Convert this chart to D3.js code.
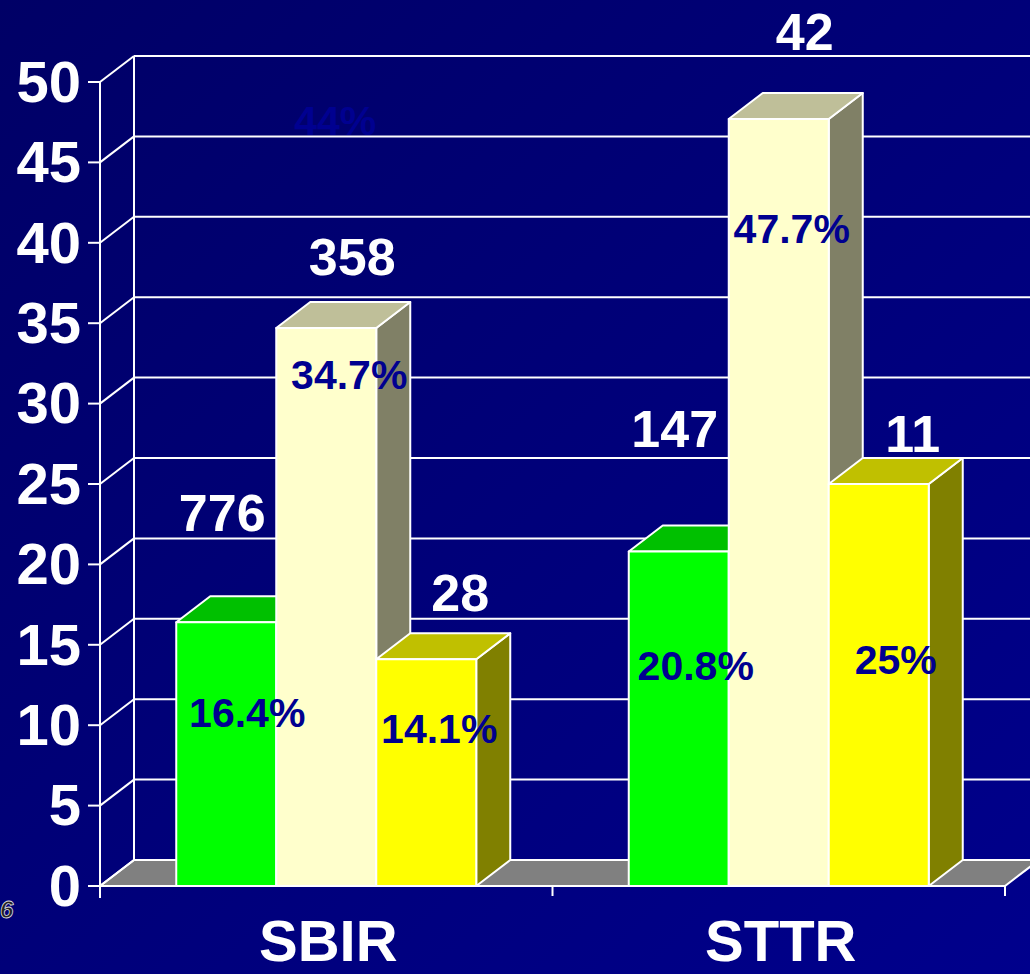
<!DOCTYPE html>
<html>
<head>
<meta charset="utf-8">
<script src="https://cdn.jsdelivr.net/npm/d3@7"></script>
<style>
  body { margin: 0; background: #000070; }
  svg { display: block; }
  text { font-family: "Liberation Sans", Arial, sans-serif; font-weight: bold; }
</style>
</head>
<body>
<div id="chart"></div>
<script>
// data
const programs = ["SBIR", "STTR"];
const series = ["green", "cream", "yellow"];
const pctValues = [[16.4, 34.7, 14.1], [20.8, 47.7, 25]];
const counts = [[776, 358, 28], [147, 42, 11]];
const pctLabels = [["16.4%", "34.7%", "14.1%"], ["20.8%", "47.7%", "25%"]];
const yTicks = [0, 5, 10, 15, 20, 25, 30, 35, 40, 45, 50];
// where the hand-placed labels sit (chart units)
const countLabelAt = [[22.1, 38.0, 17.1], [27.3, 52.0, 27.0]];
const pctLabelAt = [[9.9, 30.9, 8.9], [12.8, 40.0, 13.2]];
const strayLabel = "44%", strayLabelAt = 46.7;

const W = 1030, H = 974;
const depthX = 34, depthY = -26;
const colors = {
  green:  { front: "#00ff00", top: "#00c000", side: "#008000" },
  cream:  { front: "#ffffcc", top: "#bfbf99", side: "#808066" },
  yellow: { front: "#ffff00", top: "#c0c000", side: "#808000" }
};
const countShift = [-21, 9, 17];
const pctShift = [[4, 6, -4], [0, -4, 0]];

const svg = d3.select("#chart").append("svg").attr("width", W).attr("height", H);

const grad = svg.append("defs").append("linearGradient").attr("id", "bg")
  .attr("x1", "0").attr("y1", "0").attr("x2", "1").attr("y2", "1");
grad.append("stop").attr("offset", "0").attr("stop-color", "#000066");
grad.append("stop").attr("offset", "1").attr("stop-color", "#00008c");
svg.append("rect").attr("width", W).attr("height", H).attr("fill", "url(#bg)");

const x = d3.scaleBand().domain(programs).range([100, 1005]);
const y = d3.scaleLinear().domain([0, 50]).range([886, 82]);
const groupW = 300;
const inner = d3.scaleBand().domain(series)
  .range([(x.bandwidth() - groupW) / 2, (x.bandwidth() + groupW) / 2]);

const x0 = x.range()[0], x1 = x.range()[1];
const line = (a, b, c, d) => svg.append("line")
  .attr("x1", a).attr("y1", b).attr("x2", c).attr("y2", d)
  .attr("stroke", "white").attr("stroke-width", 2);

// floor
svg.append("path")
  .attr("d", `M${x0},${y(0)}L${x1},${y(0)}L${x1 + depthX},${y(0) + depthY}L${x0 + depthX},${y(0) + depthY}Z`)
  .attr("fill", "#808080").attr("stroke", "white").attr("stroke-width", 2);

// back wall gridlines + left wall
yTicks.forEach(t => {
  if (t > 0) line(x0 + depthX, y(t) + depthY, x1 + depthX, y(t) + depthY);
  line(x0, y(t), x0 + depthX, y(t) + depthY);
});
line(x0 + depthX, y(50) + depthY, x0 + depthX, y(0) + depthY);

// stray label behind the bars
svg.append("text")
  .attr("x", x("SBIR") + inner("cream") + inner.bandwidth() / 2 + depthX / 2 - 8)
  .attr("y", y(strayLabelAt))
  .attr("text-anchor", "middle").attr("font-size", 41).attr("fill", "#000090")
  .text(strayLabel);

// bars
programs.forEach((p, pi) => {
  series.forEach((s, si) => {
    const v = pctValues[pi][si];
    const bx = x(p) + inner(s), bw = inner.bandwidth();
    const top = y(v), base = y(0);
    const g = svg.append("g").attr("stroke", "white").attr("stroke-width", 2).attr("stroke-linejoin", "round");
    g.append("path")
      .attr("d", `M${bx + bw},${base}L${bx + bw + depthX},${base + depthY}L${bx + bw + depthX},${top + depthY}L${bx + bw},${top}Z`)
      .attr("fill", colors[s].side);
    g.append("path")
      .attr("d", `M${bx},${top}L${bx + depthX},${top + depthY}L${bx + bw + depthX},${top + depthY}L${bx + bw},${top}Z`)
      .attr("fill", colors[s].top);
    g.append("rect").attr("x", bx).attr("y", top).attr("width", bw).attr("height", base - top)
      .attr("fill", colors[s].front);
  });
});

// axes in front
line(x0, y(50), x0, y(0) + 12);
line(x0, y(0), x1, y(0));
yTicks.forEach(t => line(x0 - 12, y(t), x0, y(t)));
[x0, x0 + x.bandwidth(), x1].forEach(v => line(v, y(0), v, y(0) + 10));

svg.selectAll("text.ytick").data(yTicks).enter().append("text")
  .attr("class", "ytick")
  .attr("x", 81).attr("y", d => y(d)).attr("dy", "0.34em")
  .attr("text-anchor", "end").attr("font-size", 58).attr("fill", "white")
  .text(d => d);

svg.selectAll("text.cat").data(programs).enter().append("text")
  .attr("class", "cat")
  .attr("x", d => x(d) + x.bandwidth() / 2 + 2).attr("y", 961)
  .attr("text-anchor", "middle").attr("font-size", 58).attr("fill", "white")
  .text(d => d);

// value labels
programs.forEach((p, pi) => {
  series.forEach((s, si) => {
    const cx = x(p) + inner(s) + inner.bandwidth() / 2 + depthX / 2;
    svg.append("text")
      .attr("x", cx + countShift[si]).attr("y", y(countLabelAt[pi][si]))
      .attr("text-anchor", "middle").attr("font-size", 52).attr("fill", "white")
      .text(counts[pi][si]);
    svg.append("text")
      .attr("x", cx + pctShift[pi][si]).attr("y", y(pctLabelAt[pi][si]))
      .attr("text-anchor", "middle").attr("font-size", 41).attr("fill", "#000090")
      .text(pctLabels[pi][si]);
  });
});

// slide number fragment
svg.append("text").attr("x", 0).attr("y", 918)
  .attr("font-size", 24).attr("font-weight", "normal").attr("font-style", "italic")
  .attr("fill", "#222222").attr("stroke", "#dddddd").attr("stroke-width", 0.8)
  .text("6");
</script>
</body>
</html>
